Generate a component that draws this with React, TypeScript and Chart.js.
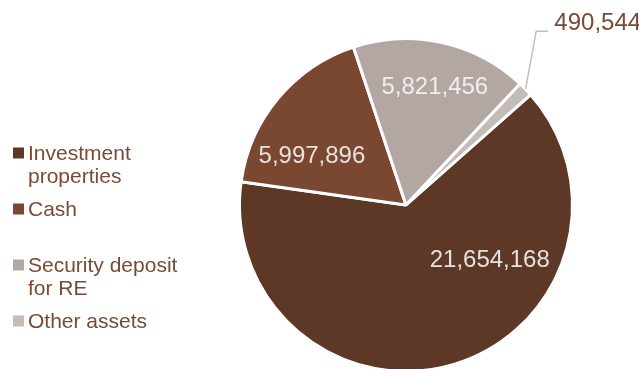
import React, { useEffect, useRef } from "react";
import { Chart, registerables } from "chart.js";

Chart.register(...registerables);

const categories: (string | string[])[] = [
  ["Investment", "properties"],
  "Cash",
  ["Security deposit", "for RE"],
  "Other assets",
];
const values: number[] = [21654168, 5997896, 5821456, 490544];
const valueLabels: string[] = ["21,654,168", "5,997,896", "5,821,456", "490,544"];
const sliceColors: string[] = ["#5E3826", "#7A4731", "#B3A7A4", "#C4BCB8"];
const labelColors: string[] = ["#E6E1DF", "#E6E1DF", "#F2EEEC", "#7A4A34"];

// label placement relative to pie centre, in units of outer radius
const labelOffsets: [number, number, CanvasTextAlign][] = [
  [0.503, 0.33, "center"],
  [-0.565, -0.293, "center"],
  [0.173, -0.709, "center"],
  [0.891, -1.091, "left"],
];

const legendTextColor = "#7A4A34";

const labelsPlugin = {
  id: "sliceLabels",
  afterDraw(chart: any) {
    const ctx: CanvasRenderingContext2D = chart.ctx;
    const meta = chart.getDatasetMeta(0);
    ctx.save();
    ctx.font = '24px "Liberation Sans", Arial, sans-serif';
    ctx.textBaseline = "middle";
    meta.data.forEach((arc: any, i: number) => {
      const r = arc.outerRadius;
      const [fx, fy, align] = labelOffsets[i];
      ctx.fillStyle = labelColors[i];
      ctx.textAlign = align;
      ctx.fillText(valueLabels[i], arc.x + fx * r, arc.y + fy * r);
      if (i === 3) {
        const mid = (arc.startAngle + arc.endAngle) / 2;
        ctx.strokeStyle = "#BFBFBF";
        ctx.lineWidth = 1.5;
        ctx.beginPath();
        ctx.moveTo(arc.x + Math.cos(mid) * r * 1.0, arc.y + Math.sin(mid) * r * 1.0);
        ctx.lineTo(arc.x + 0.782 * r, arc.y - 1.044 * r);
        ctx.lineTo(arc.x + 0.855 * r, arc.y - 1.044 * r);
        ctx.stroke();
      }
    });
    // legend
    ctx.font = '21px "Liberation Sans", Arial, sans-serif';
    ctx.textBaseline = "alphabetic";
    ctx.textAlign = "left";
    const startBaseline = 159.5;
    const itemStep = 56;
    const lineStep = 23.7;
    categories.forEach((cat, i) => {
      const base = startBaseline + i * itemStep;
      ctx.fillStyle = sliceColors[i];
      ctx.fillRect(13, base - 12, 11, 11);
      ctx.fillStyle = legendTextColor;
      const lines = Array.isArray(cat) ? cat : [cat];
      lines.forEach((ln, j) => ctx.fillText(ln, 28, base + j * lineStep));
    });
    ctx.restore();
  },
};

export default function App() {
  const ref = useRef<HTMLCanvasElement>(null);
  useEffect(() => {
    document.body.style.margin = "0";
    document.body.style.overflow = "hidden";
    const chart = new Chart(ref.current!, {
      type: "pie",
      data: {
        labels: categories as any,
        datasets: [
          {
            data: values,
            backgroundColor: sliceColors,
            borderColor: "#FFFFFF",
            borderWidth: 3,
          },
        ],
      },
      options: {
        responsive: false,
        animation: false,
        devicePixelRatio: 1,
        rotation: 48.5,
        layout: { padding: { left: 238, right: 65, top: 37, bottom: 7 } },
        plugins: {
          legend: { display: false },
          tooltip: { enabled: false },
        },
      },
      plugins: [labelsPlugin],
    });
    return () => chart.destroy();
  }, []);
  return (
    <div style={{ width: 639, height: 369, overflow: "hidden", background: "#fff" }}>
      <canvas ref={ref} width={639} height={380} style={{ width: 639, height: 380 }} />
    </div>
  );
}
